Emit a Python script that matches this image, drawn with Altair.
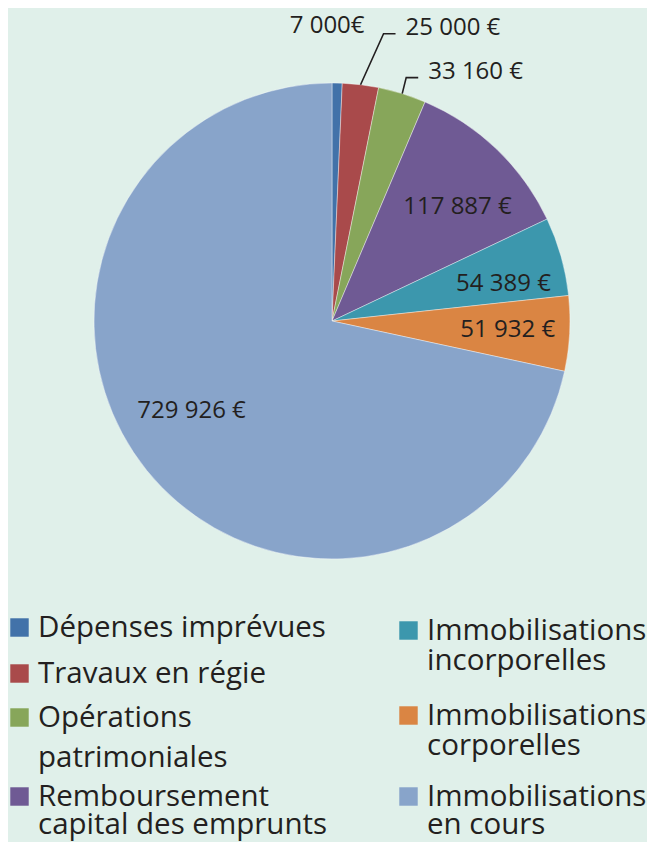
import altair as alt
import pandas as pd
import numpy as np

# ---------------- data ----------------
categories = [
    "Dépenses imprévues",
    "Travaux en régie",
    "Opérations patrimoniales",
    "Remboursement capital des emprunts",
    "Immobilisations incorporelles",
    "Immobilisations corporelles",
    "Immobilisations en cours",
]
values = [7000, 25000, 33160, 117887, 54389, 51932, 729926]
value_labels = ["7 000€", "25 000 €", "33 160 €", "117 887 €", "54 389 €", "51 932 €", "729 926 €"]
legend_lines = [
    ["Dépenses imprévues"],
    ["Travaux en régie"],
    ["Opérations", "patrimoniales"],
    ["Remboursement", "capital des emprunts"],
    ["Immobilisations", "incorporelles"],
    ["Immobilisations", "corporelles"],
    ["Immobilisations", "en cours"],
]
colors = ["#4272a9", "#a94a4b", "#87a65a", "#6f5a94", "#3c97ad", "#da8543", "#88a4ca"]

# ---------------- layout ----------------
W, H = 639, 834
CX, CY, R = 324, 313, 238
INSIDE_R = 174
FONT = "Open Sans"
TEXT_COLOR = "#231f20"
BG = "#e0f0ea"
LABEL_SIZE = 24
LEGEND_SIZE = 29.5

# outside labels: offset of elbow from slice edge point (None = no leader)
outside = {0: None, 1: (23, -51), 2: (4, -16)}
seven_offset = (-10, -57)
# small nudges of inside labels (Excel-like best-fit placement)
inside_nudge = {3: (5, 12), 4: (4, 10), 5: (2, 0), 6: (-5, -19)}

# legend layout: column, baseline of first line, gap to second line
leg_col = [0, 0, 0, 0, 1, 1, 1]
leg_base = [629, 675, 719, 798, 632, 717, 798]
leg_gap = [0, 0, 40, 28, 30, 30, 28]
col_sq_x = [11.5, 400.5]
col_tx_x = [30, 419]

# ---------------- derived ----------------
vals = np.array(values, dtype=float)
total = vals.sum()
start = np.cumsum(vals) - vals
mid = (start + vals / 2) / total * 2 * np.pi

pie_df = pd.DataFrame({"category": categories, "value": values, "idx": range(len(values))})

inside_rows, out_rows, leader_rows = [], [], []
for i, lab in enumerate(value_labels):
    if i in outside:
        ex, ey = CX + R * np.sin(mid[i]), CY - R * np.cos(mid[i])
        off = outside[i]
        if off is None:
            out_rows.append({"x": ex + seven_offset[0], "y": ey + seven_offset[1], "label": lab, "al": "center"})
        else:
            bx, by = ex + off[0], ey + off[1]
            leader_rows += [
                {"k": i, "o": 0, "x": ex, "y": ey},
                {"k": i, "o": 1, "x": bx, "y": by},
                {"k": i, "o": 2, "x": bx + 12, "y": by},
            ]
            out_rows.append({"x": bx + 22, "y": by - 6, "label": lab, "al": "left"})
    else:
        nx, ny = inside_nudge.get(i, (0, 0))
        inside_rows.append({"x": CX + INSIDE_R * np.sin(mid[i]) + nx,
                            "y": CY - INSIDE_R * np.cos(mid[i]) + ny, "label": lab})

sq_rows, txt_rows = [], []
for i, lines in enumerate(legend_lines):
    c = leg_col[i]
    sq_rows.append({"category": categories[i], "x": col_sq_x[c], "y": leg_base[i] - 9.5})
    for j, ln in enumerate(lines):
        txt_rows.append({"x": col_tx_x[c], "y": leg_base[i] + j * leg_gap[i], "t": ln})

xs = alt.Scale(domain=[0, W], nice=False, zero=False)
ys = alt.Scale(domain=[0, H], nice=False, zero=False, reverse=True)
color_scale = alt.Scale(domain=categories, range=colors)

pie = alt.Chart(pie_df).mark_arc(radius=R, stroke="#ffffff", strokeWidth=0.4).encode(
    theta=alt.Theta("value:Q", stack=True),
    color=alt.Color("category:N", scale=color_scale, legend=None),
    order=alt.Order("idx:Q"),
    x=alt.value(CX),
    y=alt.value(CY),
)

inside_txt = alt.Chart(pd.DataFrame(inside_rows)).mark_text(
    font=FONT, fontSize=LABEL_SIZE, color=TEXT_COLOR, align="center", baseline="middle"
).encode(x=alt.X("x:Q", scale=xs, axis=None), y=alt.Y("y:Q", scale=ys, axis=None), text="label:N")

out_df = pd.DataFrame(out_rows)
out_left = alt.Chart(out_df[out_df["al"] == "left"]).mark_text(
    font=FONT, fontSize=LABEL_SIZE, color=TEXT_COLOR, align="left", baseline="middle"
).encode(x=alt.X("x:Q", scale=xs, axis=None), y=alt.Y("y:Q", scale=ys, axis=None), text="label:N")
out_center = alt.Chart(out_df[out_df["al"] == "center"]).mark_text(
    font=FONT, fontSize=LABEL_SIZE, color=TEXT_COLOR, align="center", baseline="middle"
).encode(x=alt.X("x:Q", scale=xs, axis=None), y=alt.Y("y:Q", scale=ys, axis=None), text="label:N")

leaders = alt.Chart(pd.DataFrame(leader_rows)).mark_line(color=TEXT_COLOR, strokeWidth=1.6).encode(
    x=alt.X("x:Q", scale=xs, axis=None),
    y=alt.Y("y:Q", scale=ys, axis=None),
    detail="k:N",
    order="o:Q",
)

leg_sq = alt.Chart(pd.DataFrame(sq_rows)).mark_square(size=340, opacity=1).encode(
    x=alt.X("x:Q", scale=xs, axis=None),
    y=alt.Y("y:Q", scale=ys, axis=None),
    color=alt.Color("category:N", scale=color_scale, legend=None),
)
leg_txt = alt.Chart(pd.DataFrame(txt_rows)).mark_text(
    font=FONT, fontSize=LEGEND_SIZE, color=TEXT_COLOR, align="left", baseline="alphabetic"
).encode(x=alt.X("x:Q", scale=xs, axis=None), y=alt.Y("y:Q", scale=ys, axis=None), text="t:N")

chart = alt.layer(pie, leaders, inside_txt, out_left, out_center, leg_sq, leg_txt).properties(
    width=W, height=H, background=BG, padding=0, autosize=alt.AutoSizeParams(type="none")
).configure_view(stroke=None)

chart.save("out.html", embed_options={"renderer": "svg", "actions": False})
